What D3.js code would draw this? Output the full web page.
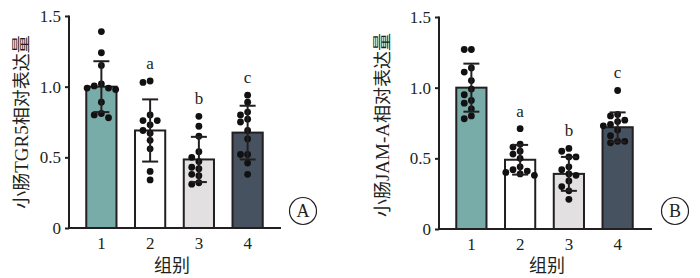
<!DOCTYPE html>
<html>
<head>
<meta charset="utf-8">
<script src="https://cdn.jsdelivr.net/npm/d3@7"></script>
<style>
  body { margin: 0; background: #fff; }
  svg text { fill: #231f20; }
</style>
</head>
<body>
<div id="chart"></div>
<script>
// groups and bar colours
var groups = ['1', '2', '3', '4'];
var barColors = ['#78aca8', '#ffffff', '#e2e0e0', '#465260'];
var yTicks = [0, 0.5, 1.0, 1.5];
var yTickLabels = ['0', '0.5', '1.0', '1.5'];
var sigLetters = ['', 'a', 'b', 'c'];

// panel A : TGR5
var meanA = [1.00, 0.69, 0.485, 0.675];
var sdA = [0.18, 0.22, 0.16, 0.19];
var dotsA = [
  [1.39, 1.24, 1.15, 0.99, 1.005, 0.98, 1.02, 0.99, 0.89, 0.78, 0.81, 0.80],
  [1.03, 1.04, 0.80, 0.76, 0.76, 0.73, 0.69, 0.67, 0.62, 0.56, 0.40, 0.34],
  [0.79, 0.72, 0.65, 0.54, 0.50, 0.47, 0.42, 0.43, 0.37, 0.38, 0.32, 0.31],
  [0.94, 0.89, 0.82, 0.80, 0.77, 0.75, 0.69, 0.63, 0.52, 0.52, 0.46, 0.38]
];

// panel B : JAM-A
var meanB = [1.00, 0.49, 0.39, 0.72];
var sdB = [0.17, 0.105, 0.12, 0.105];
var dotsB = [
  [1.27, 1.27, 1.14, 1.11, 1.05, 0.99, 0.95, 0.89, 0.91, 0.85, 0.78, 0.80],
  [0.71, 0.60, 0.58, 0.55, 0.53, 0.50, 0.44, 0.42, 0.41, 0.40, 0.39, 0.38],
  [0.57, 0.55, 0.51, 0.51, 0.44, 0.42, 0.39, 0.38, 0.34, 0.30, 0.27, 0.21],
  [0.98, 0.81, 0.80, 0.77, 0.76, 0.74, 0.73, 0.70, 0.66, 0.62, 0.62, 0.61]
];

var svg = d3.select('#chart').append('svg')
    .attr('width', 700)
    .attr('height', 278);

var ink = '#231f20',
    serif = '"Liberation Serif", "Times New Roman", serif',
    cjk = '"Noto Sans CJK SC", sans-serif',
    dotR = 3.4;

// simple beeswarm: spread dots sideways when they would overlap
function swarm(values, y) {
  var placed = [];
  var step = dotR * 2.1;
  values.slice().sort(function (a, b) { return b - a; }).forEach(function (v) {
    var py = y(v);
    for (var k = 0; k < 20; k++) {
      var off = (k % 2 === 0 ? 1 : -1) * Math.ceil(k / 2) * step;
      var hit = placed.some(function (p) {
        return Math.hypot(p.x - off, p.y - py) < dotR * 2;
      });
      if (!hit) { placed.push({x: off, y: py}); break; }
    }
  });
  return placed;
}

function drawPanel(opt) {
  var g = svg.append('g');

  var y = d3.scaleLinear().domain([0, 1.5]).range([opt.bottom, opt.top]);
  var x = d3.scaleBand().domain(groups)
      .range([opt.left + 8, opt.left + 203])
      .paddingInner(0.38).paddingOuter(0.19);

  // bars
  g.selectAll('.bar')
    .data(groups)
    .enter().append('rect')
    .attr('class', 'bar')
    .attr('x', function (d) { return x(d); })
    .attr('width', x.bandwidth())
    .attr('y', function (d, i) { return y(opt.mean[i]); })
    .attr('height', function (d, i) { return y(0) - y(opt.mean[i]); })
    .style('fill', function (d, i) { return barColors[i]; })
    .style('stroke', ink)
    .style('stroke-width', 2);

  // dots
  groups.forEach(function (gr, i) {
    var cx = x(gr) + x.bandwidth() / 2;
    g.selectAll('.dot' + i)
      .data(swarm(opt.dots[i], y))
      .enter().append('circle')
      .attr('cx', function (d) { return cx + d.x; })
      .attr('cy', function (d) { return d.y; })
      .attr('r', dotR)
      .style('fill', '#111');
  });

  // error bars
  var err = g.selectAll('.err')
    .data(groups)
    .enter().append('g')
    .attr('class', 'err')
    .attr('transform', function (d) { return 'translate(' + (x(d) + x.bandwidth() / 2) + ',0)'; });
  err.append('line')
    .attr('y1', function (d, i) { return y(opt.mean[i] - opt.sd[i]); })
    .attr('y2', function (d, i) { return y(opt.mean[i] + opt.sd[i]); });
  err.append('line')
    .attr('x1', -8).attr('x2', 8)
    .attr('y1', function (d, i) { return y(opt.mean[i] + opt.sd[i]); })
    .attr('y2', function (d, i) { return y(opt.mean[i] + opt.sd[i]); });
  err.append('line')
    .attr('x1', -8).attr('x2', 8)
    .attr('y1', function (d, i) { return y(opt.mean[i] - opt.sd[i]); })
    .attr('y2', function (d, i) { return y(opt.mean[i] - opt.sd[i]); });
  err.selectAll('line').style('stroke', ink).style('stroke-width', 2);

  // significance letters
  g.selectAll('.sig')
    .data(groups)
    .enter().append('text')
    .attr('x', function (d) { return x(d) + x.bandwidth() / 2; })
    .attr('y', function (d, i) { return y(d3.max(opt.dots[i])) - 12; })
    .attr('text-anchor', 'middle')
    .style('font-family', serif)
    .style('font-size', '17px')
    .text(function (d, i) { return sigLetters[i]; });

  // y axis
  var yAxis = d3.axisLeft(y).tickValues(yTicks)
      .tickFormat(function (d, i) { return yTickLabels[i]; })
      .tickSize(4).tickSizeOuter(0).tickPadding(4);
  var ya = g.append('g')
    .attr('transform', 'translate(' + opt.left + ',0)')
    .call(yAxis);
  ya.select('.domain').attr('d', 'M0,' + (opt.top - 0.5) + 'V' + opt.bottom);

  // x axis
  var xAxis = d3.axisBottom(x).tickSize(0).tickPadding(9);
  var xa = g.append('g')
    .attr('transform', 'translate(0,' + opt.bottom + ')')
    .call(xAxis);
  xa.select('.domain').attr('d', 'M' + (opt.left - 1) + ',0H' + opt.xEnd);

  g.selectAll('.domain, .tick line').style('stroke', ink).style('stroke-width', 2);
  g.selectAll('.tick text')
    .style('font-family', serif)
    .style('font-size', '17px')
    .style('fill', ink);

  // y title
  var t = g.append('text')
    .attr('transform', 'translate(' + opt.titleX + ',' + opt.titleY + ') rotate(-90)')
    .attr('text-anchor', 'middle')
    .attr('dy', '0.35em')
    .style('font-family', cjk)
    .style('font-size', '18px');
  t.append('tspan').text('小肠');
  t.append('tspan').style('font-family', serif).style('font-size', '19px').text(opt.gene);
  t.append('tspan').text('相对表达量');

  // x title
  g.append('text')
    .attr('x', opt.xTitleX)
    .attr('y', 272)
    .attr('text-anchor', 'middle')
    .style('font-family', cjk)
    .style('font-size', '18px')
    .text('组别');

  // panel mark
  g.append('circle')
    .attr('cx', opt.markX).attr('cy', 211).attr('r', 13.5)
    .style('fill', 'none').style('stroke', ink).style('stroke-width', 1.2);
  g.append('text')
    .attr('x', opt.markX).attr('y', 211)
    .attr('dy', '0.35em')
    .attr('text-anchor', 'middle')
    .style('font-family', serif)
    .style('font-size', '18px')
    .text(opt.mark);
}

drawPanel({
  left: 69, top: 16, bottom: 228, xEnd: 281,
  mean: meanA, sd: sdA, dots: dotsA,
  gene: 'TGR5', titleX: 22, titleY: 122, xTitleX: 172,
  mark: 'A', markX: 303
});

drawPanel({
  left: 439, top: 17, bottom: 229, xEnd: 652,
  mean: meanB, sd: sdB, dots: dotsB,
  gene: 'JAM-A', titleX: 383, titleY: 125, xTitleX: 547,
  mark: 'B', markX: 675
});
</script>
</body>
</html>
